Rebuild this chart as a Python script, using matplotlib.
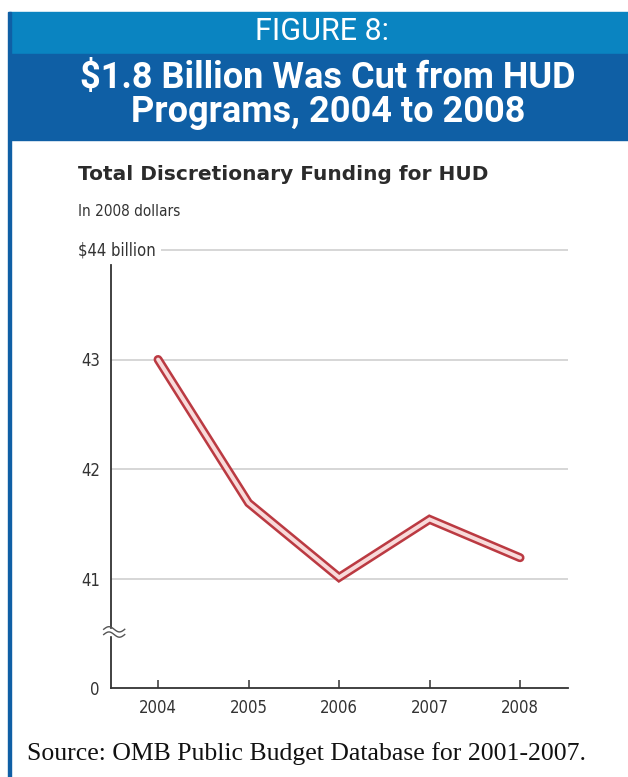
import matplotlib.pyplot as plt
from matplotlib.patches import Rectangle
import numpy as np

# Data (in 2008 dollars, billions)
years = [2004, 2005, 2006, 2007, 2008]
funding = [43.0, 41.69, 41.01, 41.54, 41.19]
ytick_vals = [40, 41, 42, 43]          # 40 is drawn as the broken-axis "0"
ytick_labels = ['0', '41', '42', '43']

light_blue = '#0a84c1'
dark_blue = '#0f5fa5'
cond = dict(family='DejaVu Sans', stretch='condensed')

fig = plt.figure(figsize=(6.28, 7.77), dpi=100)
W, H = 628, 777

def fx(x):
    return x / W

def fy(y):
    return 1 - y / H

# header bands and frame line
fig.patches.append(Rectangle((fx(9), fy(54)), 1, 42 / H, transform=fig.transFigure,
                             color=light_blue, zorder=0))
fig.patches.append(Rectangle((fx(9), fy(140)), 1, 86 / H, transform=fig.transFigure,
                             color=dark_blue, zorder=0))
fig.patches.append(Rectangle((fx(8), 0), 2.5 / W, fy(12), transform=fig.transFigure,
                             color=dark_blue, zorder=0))

fig.text(fx(322), fy(32), 'FIGURE 8:', color='white', ha='center', va='center',
         fontsize=22, family='Roboto')
fig.text(fx(328), fy(95), '$1.8 Billion Was Cut from HUD\nPrograms, 2004 to 2008',
         color='white', ha='center', va='center', fontsize=26, fontweight='bold',
         family='Roboto', linespacing=0.95)

fig.text(fx(78), fy(175), 'Total Discretionary Funding for HUD', ha='left', va='center',
         fontsize=14.5, fontweight='bold', family='DejaVu Sans', color='#2b2b2b')
fig.text(fx(78), fy(212), 'In 2008 dollars', ha='left', va='center',
         fontsize=11, color='#333333', **cond)

ax = fig.add_axes([fx(111), fy(688), (568 - 111) / W, (688 - 250) / H])
ax.set_xlim(2003.48, 2008.53)
ax.set_ylim(40, 44)

# gridlines
ax.hlines([41, 42, 43], 2003.48, 2008.53, color='#d0d0d0', lw=1.2, zorder=1)
ax.hlines(44, 2004.03, 2008.53, color='#d0d0d0', lw=1.2, zorder=1, clip_on=False)
ax.text(-0.073, 1.0, '$44 billion', transform=ax.transAxes, ha='left', va='center',
        fontsize=12, color='#333333', **cond)

# double red line
ax.plot(years, funding, color='#bb3a42', lw=6.5, solid_capstyle='round',
        solid_joinstyle='miter', zorder=3)
ax.plot(years, funding, color='#f8dada', lw=2.8, solid_capstyle='round',
        solid_joinstyle='miter', zorder=4)

for s in ['top', 'right']:
    ax.spines[s].set_visible(False)
ax.spines['left'].set_bounds(40, 43.86)
ax.spines['left'].set_color('#333333')
ax.spines['bottom'].set_color('#333333')
ax.spines['left'].set_linewidth(1.3)
ax.spines['bottom'].set_linewidth(1.3)

ax.set_yticks(ytick_vals)
ax.set_yticklabels(ytick_labels, fontsize=12, color='#333333', **cond)
ax.tick_params(axis='y', length=0, pad=8)
ax.set_xticks(years)
ax.set_xticklabels([str(y) for y in years], fontsize=12, color='#333333', **cond)
ax.tick_params(axis='x', direction='in', length=6, width=1.1, color='#333333', pad=8)

# axis break squiggle at about 40.5
t = np.linspace(0, 1, 30)
ax.add_patch(Rectangle((-0.02, 0.122), 0.04, 0.012, transform=ax.transAxes,
                       color='white', clip_on=False, zorder=4))
for off in (0.0, 0.012):
    ax.plot(-0.016 + 0.046 * t, 0.122 + off + 0.006 * np.sin(2 * np.pi * t),
            transform=ax.transAxes, color='#555555', lw=1.0, clip_on=False, zorder=5)

fig.text(fx(27), fy(754), 'Source: OMB Public Budget Database for 2001-2007.',
         ha='left', va='center', fontsize=18.5, family=['Liberation Serif', 'DejaVu Serif'],
         color='#111111')

fig.savefig('out.png', dpi=100)
